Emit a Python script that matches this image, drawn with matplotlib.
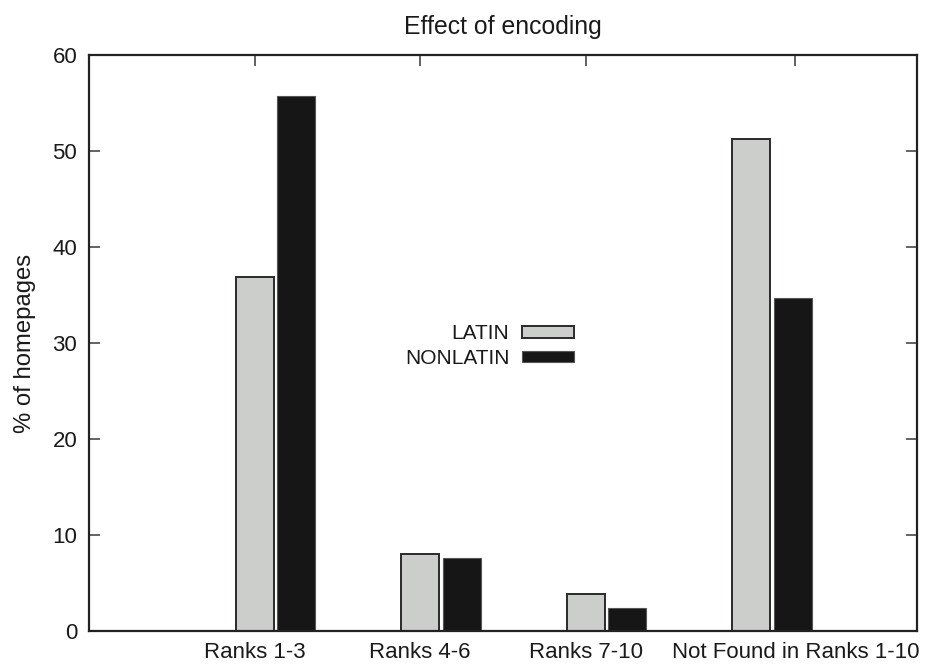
import matplotlib
matplotlib.use("Agg")
import matplotlib.pyplot as plt
import numpy as np

categories = ["Ranks 1-3", "Ranks 4-6", "Ranks 7-10", "Not Found in Ranks 1-10"]
latin = [36.9, 8.0, 3.9, 51.3]
nonlatin = [55.7, 7.6, 2.35, 34.7]
series_names = ["LATIN", "NONLATIN"]
yticks = [0, 10, 20, 30, 40, 50, 60]

plt.rcParams['font.family'] = ['Liberation Sans', 'DejaVu Sans']
FS = 16

fig = plt.figure(figsize=(9.29, 6.64), dpi=100)
ax = fig.add_axes([89/929, 1-631/664, (917-89)/929, (631-55)/664])

x = np.arange(len(categories))
w = 0.23
off = 0.25
ax.bar(x, latin, width=w, color="#cccecc", edgecolor="#2a2a2a", linewidth=1.4,
       label=series_names[0], zorder=2)
ax.bar(x + off, nonlatin, width=w, color="#161616", edgecolor="#555555", linewidth=0.8,
       label=series_names[1], zorder=2)

ax.set_xlim(-1, 4)
ax.set_ylim(0, 60)
ax.set_yticks(yticks)

tick_pos = x.astype(float).copy()
tick_pos[-1] += 0.265
ax.set_xticks(tick_pos)
ax.set_xticklabels(categories)
ax.set_axisbelow(True)

ax.tick_params(axis='both', direction='in', length=8, width=1.3, color="#555555",
               labelsize=FS, labelcolor="#1a1a1a", top=True, right=True)
ax.tick_params(axis='y', pad=8.5)
ax.tick_params(axis='x', pad=8)
for s in ax.spines.values():
    s.set_linewidth(1.6)
    s.set_color("#222222")

ax.set_title("Effect of encoding", fontsize=17.8, color="#1a1a1a", pad=15)
ax.set_ylabel("% of homepages", fontsize=17.2, color="#1a1a1a", labelpad=12)

leg = ax.legend(loc='center right', bbox_to_anchor=(574/929, 1-346/664),
                bbox_transform=fig.transFigure, frameon=False, markerfirst=False,
                fontsize=15, handlelength=2.5, handleheight=0.45, handletextpad=0.6,
                labelspacing=0.25, borderpad=0, borderaxespad=0)
for t in leg.get_texts():
    t.set_color("#1a1a1a")

fig.savefig("out.png", dpi=100)
